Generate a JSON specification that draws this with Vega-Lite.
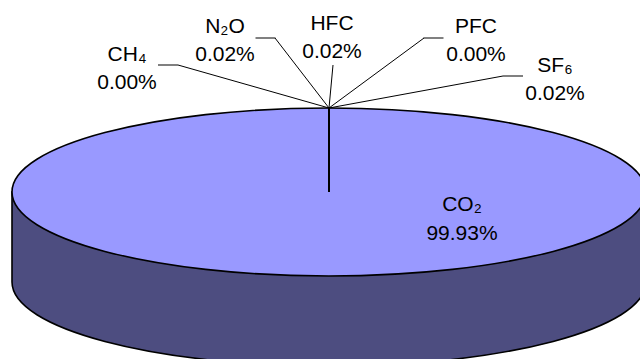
{
  "$schema": "https://vega.github.io/schema/vega-lite/v6.json",
  "width": 640,
  "height": 359,
  "autosize": {"type": "none"},
  "padding": 0,
  "background": "white",
  "config": {"view": {"stroke": null}, "font": "Liberation Sans"},
  "data": {
    "values": [
      {"gas": "CO₂", "share": 0.9993, "order": 0},
      {"gas": "CH₄", "share": 0.0, "order": 1},
      {"gas": "N₂O", "share": 0.0002, "order": 2},
      {"gas": "HFC", "share": 0.0002, "order": 3},
      {"gas": "PFC", "share": 0.0, "order": 4},
      {"gas": "SF₆", "share": 0.0002, "order": 5}
    ]
  },
  "resolve": {"scale": {"x": "independent", "y": "independent"}},
  "layer": [
    {
      "transform": [{"filter": "datum.order == 0"}],
      "mark": {"type": "point", "shape": "M-1,0 L-1,0.284 A1,0.265 0 0,0 1,0.284 L1,0 Z", "size": 401956, "filled": true, "fill": "#4d4d80", "stroke": "#000000", "strokeWidth": 1.6, "opacity": 1},
      "encoding": {
        "x": {"datum": 0, "type": "quantitative", "scale": {"domain": [-1, 1], "range": [12, 646]}, "axis": null},
        "y": {"datum": 0, "type": "quantitative", "scale": {"domain": [-1, 1], "range": [276, 108]}, "axis": null}
      }
    },
    {
      "transform": [{"filter": "datum.order == 0"}],
      "mark": {"type": "point", "shape": "M-1,0 A1,0.265 0 0,1 1,0 A1,0.265 0 0,1 -1,0 Z", "size": 401956, "filled": true, "fill": "#9999ff", "stroke": "#000000", "strokeWidth": 1.6, "opacity": 1},
      "encoding": {
        "x": {"datum": 0, "type": "quantitative", "scale": {"domain": [-1, 1], "range": [12, 646]}, "axis": null},
        "y": {"datum": 0, "type": "quantitative", "scale": {"domain": [-1, 1], "range": [276, 108]}, "axis": null}
      }
    },
    {
      "transform": [{"filter": "datum.order == 0"}],
      "mark": {"type": "rule", "color": "#000000", "strokeWidth": 2},
      "encoding": {
        "x": {"datum": 0, "type": "quantitative", "scale": {"domain": [-1, 1], "range": [12, 646]}, "axis": null},
        "y": {"datum": 0, "type": "quantitative", "scale": {"domain": [-1, 1], "range": [276, 108]}, "axis": null},
        "y2": {"datum": 1}
      }
    },
    {
      "transform": [{"filter": "datum.order > 0"}],
      "mark": {"type": "rule", "color": "#000000", "strokeWidth": 1},
      "encoding": {
        "x": {"field": "order", "type": "quantitative", "scale": {"domain": [0, 1, 2, 3, 4, 5], "range": [329, 178, 275, 333, 424, 503]}, "axis": null},
        "y": {"field": "order", "type": "quantitative", "scale": {"domain": [0, 1, 2, 3, 4, 5], "range": [108, 65, 38, 65, 38, 76]}, "axis": null},
        "x2": {"datum": 0},
        "y2": {"datum": 0}
      }
    },
    {
      "transform": [{"filter": "datum.order > 0 && datum.order != 3"}],
      "mark": {"type": "tick", "orient": "horizontal", "size": 20, "thickness": 1, "color": "#000000", "opacity": 1},
      "encoding": {
        "x": {"field": "order", "type": "quantitative", "scale": {"domain": [1, 2, 4, 5], "range": [168, 265.5, 433.5, 513]}, "axis": null},
        "y": {"field": "order", "type": "quantitative", "scale": {"domain": [1, 2, 4, 5], "range": [65, 38, 38, 76]}, "axis": null}
      }
    },
    {
      "mark": {"type": "text", "align": "center", "baseline": "alphabetic", "fontSize": 21, "font": "Liberation Sans", "color": "#000000"},
      "encoding": {
        "x": {"field": "order", "type": "quantitative", "scale": {"domain": [0, 1, 2, 3, 4, 5], "range": [462, 127, 225, 332, 476, 555]}, "axis": null},
        "y": {"field": "order", "type": "quantitative", "scale": {"domain": [0, 1, 2, 3, 4, 5], "range": [211, 61, 33, 30, 33, 72]}, "axis": null},
        "text": {"field": "gas", "type": "nominal"}
      }
    },
    {
      "mark": {"type": "text", "align": "center", "baseline": "alphabetic", "fontSize": 21, "font": "Liberation Sans", "color": "#000000"},
      "encoding": {
        "x": {"field": "order", "type": "quantitative", "scale": {"domain": [0, 1, 2, 3, 4, 5], "range": [462, 127, 225, 332, 476, 555]}, "axis": null},
        "y": {"field": "order", "type": "quantitative", "scale": {"domain": [0, 1, 2, 3, 4, 5], "range": [240, 89, 61, 58, 61, 100]}, "axis": null},
        "text": {"field": "share", "type": "quantitative", "format": ".2%"}
      }
    }
  ]
}
